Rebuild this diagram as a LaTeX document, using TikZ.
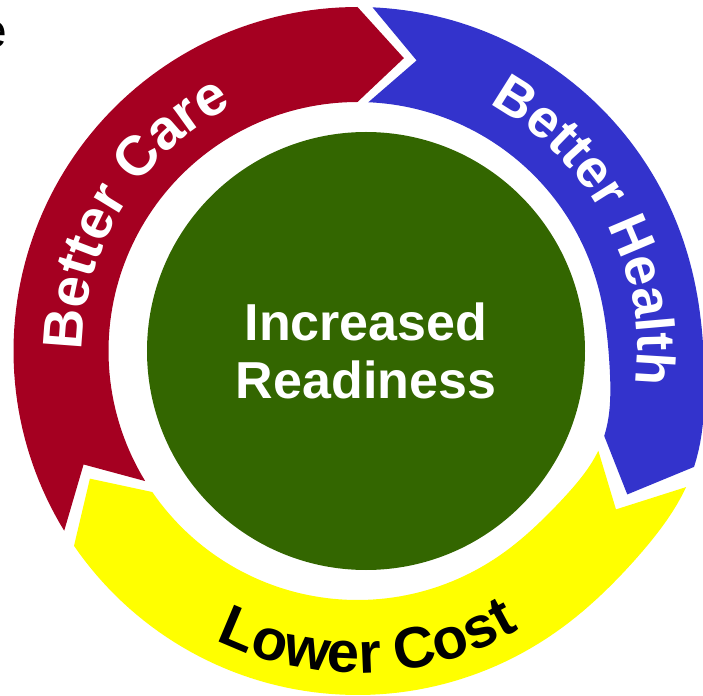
\documentclass[tikz,border=0pt]{standalone}
\usepackage{fontspec}
\setmainfont{Liberation Sans}
\usetikzlibrary{decorations.text}
\definecolor{careRed}{RGB}{165,0,33}
\definecolor{healthBlue}{RGB}{51,51,204}
\definecolor{costYellow}{RGB}{255,255,0}
\definecolor{readyGreen}{RGB}{51,102,0}
\newcommand{\bandfont}[1]{\fontsize{#1}{60}\selectfont\bfseries}
\tikzstyle{Core}=[circle, fill=readyGreen, minimum size=438pt, inner sep=0pt, text=white, align=center, font=\fontsize{52}{58}\selectfont\bfseries]
\tikzset{BandText/.style n args={3}{decorate, decoration={text along path, text={|\bandfont{#2}|#3}, text color=#1, text align=center}}}
% one band of the ring: tail angle, head angle, colour
\newcommand{\ringarrow}[3]{%
  \fill[#3] plot[domain=#1:#2, samples=80, variable=\t] ({(344+bump(\t))*cos(\t)}, {(344+bump(\t))*sin(\t)})
    -- ({(296.5+bump(#2-9))*cos(#2-9)}, {(296.5+bump(#2-9))*sin(#2-9)})
    -- plot[domain=#2:#1, samples=80, variable=\t] ({(249+bump(\t))*cos(\t)}, {(249+bump(\t))*sin(\t)})
    -- ({(296.5+bump(#1-9))*cos(#1-9)}, {(296.5+bump(#1-9))*sin(#1-9)}) -- cycle;}

\begin{document}
\begin{tikzpicture}[x=1pt, y=1pt, declare function={bump(\a)=12*exp(-min(((\a+20)/15)^2,9));}]
    \useasboundingbox (-357.5,-344) rectangle (345.5,351);

    \ringarrow{211.5}{90}{careRed}
    \ringarrow{87.5}{-19}{healthBlue}
    \ringarrow{-22.5}{-145.5}{costYellow}

    \path (8.5,0) node[Core] (readiness) {Increased\\Readiness}
    (-350,303) node[anchor=base east, inner sep=0pt, font=\fontsize{48}{50}\selectfont] (cut) {e};

    \path[BandText={white}{56}{Better Care}] (208.5:275) arc[start angle=208.5, end angle=88.5, radius=275];
    \path[BandText={white}{54}{Better Health}] (87.5:280) arc[start angle=87.5, end angle=-32.5, radius=280];
    \path[BandText={black}{58}{Lower Cost}] (-148:322) arc[start angle=-148, end angle=-28, radius=322];
\end{tikzpicture}
\end{document}
